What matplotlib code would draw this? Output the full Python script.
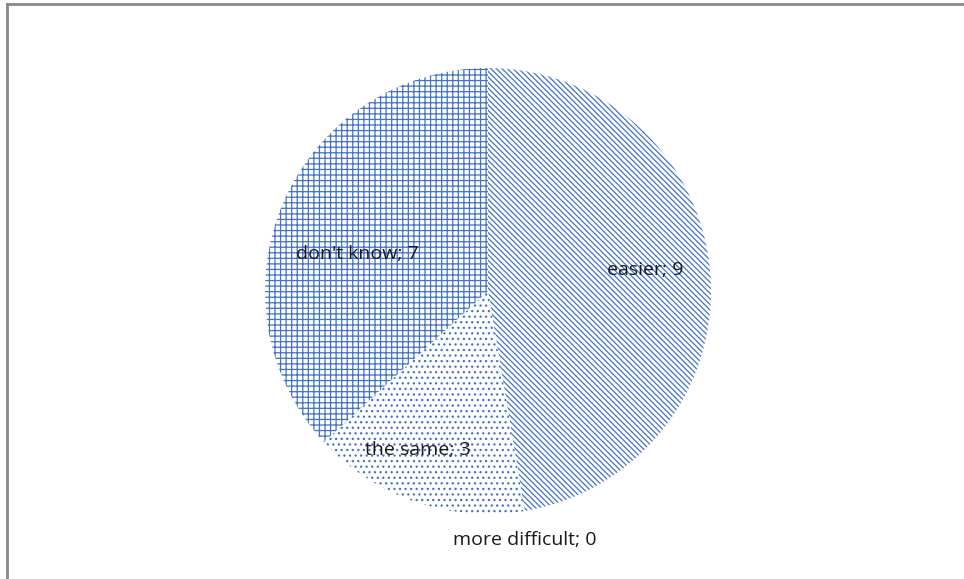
import numpy as np
import matplotlib.pyplot as plt
from matplotlib.lines import Line2D

# answer categories and counts
categories = ['easier', 'more difficult', 'the same', "don't know"]
counts = [9, 0, 3, 7]
hatches = ['\\' * 6, '', '...', '+++']
# label placement: radial distance and angle shift from the wedge middle
label_dist = [0.71, 1.13, 0.78, 0.61]
label_shift = [3, -1, -5, 8]

blue = '#4472C4'
plt.rcParams['hatch.linewidth'] = 0.9

W, H = 964, 579
fig = plt.figure(figsize=(W / 100, H / 100), dpi=100)

# pie area: centre (488, 291), radius 223 px
cx, cy, r = 488, 291, 223
ax = fig.add_axes([(cx - r) / W, 1 - (cy + r) / H, 2 * r / W, 2 * r / H])

wedges, _ = ax.pie(counts, startangle=90, counterclock=False,
                   colors=['white'] * len(counts), radius=1)
for w, h in zip(wedges, hatches):
    w.set_hatch(h)
    w.set_edgecolor(blue)
    w.set_linewidth(0)

# data labels "category; value"
for w, cat, n, d, s in zip(wedges, categories, counts, label_dist, label_shift):
    ang = np.deg2rad((w.theta1 + w.theta2) / 2 + s)
    ax.text(d * np.cos(ang), d * np.sin(ang), f'{cat}; {n}',
            ha='center', va='center', fontsize=14, color='#1a1a1a',
            family=['Open Sans', 'DejaVu Sans'])

ax.set_xlim(-1, 1)
ax.set_ylim(-1, 1)
ax.set_aspect('equal')
ax.axis('off')

# chart area frame (left and top edges)
fig.add_artist(Line2D([7 / W, 7 / W], [0, 1 - 4 / H], transform=fig.transFigure,
                      color='#888888', lw=2))
fig.add_artist(Line2D([7 / W, 1], [1 - 4 / H, 1 - 4 / H], transform=fig.transFigure,
                      color='#888888', lw=2))

fig.savefig('out.png', dpi=100)
